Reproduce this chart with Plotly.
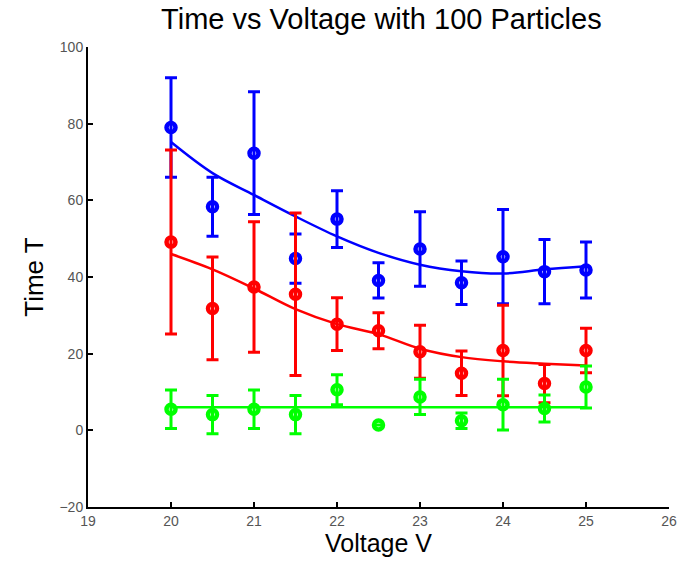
import plotly.graph_objects as go

voltage = [20, 20.5, 21, 21.5, 22, 22.5, 23, 23.5, 24, 24.5, 25]

blue_y = [79, 58.3, 72.3, 44.8, 55.1, 39.1, 47.3, 38.5, 45.3, 41.4, 41.8]
blue_err = [13, 7.7, 16, 6.4, 7.4, 4.6, 9.7, 5.7, 12.3, 8.4, 7.3]
blue_fit = [75.2, 67.1, 61.4, 55.8, 50.6, 46.3, 43.2, 41.5, 40.9, 42.0, 42.8]

red_y = [49.1, 31.8, 37.4, 35.5, 27.7, 26.0, 20.5, 14.9, 20.8, 12.2, 20.8]
red_err = [24, 13.4, 17, 21.2, 6.9, 4.7, 6.9, 5.8, 11.8, 5.0, 5.8]
red_fit = [46.0, 42.0, 37.0, 31.6, 27.7, 25.1, 21.3, 19.1, 18.0, 17.4, 16.9]

green_y = [5.5, 4.1, 5.5, 4.1, 10.6, 1.4, 8.7, 2.5, 6.7, 5.7, 11.3]
green_err = [5, 5, 5, 5, 3.9, 0, 4.6, 2, 6.6, 3.5, 5.5]
green_fit = [6.0, 6.0, 6.0, 6.0, 6.0, 6.0, 6.0, 6.0, 6.0, 6.0, 6.0]

series = [
    ("#0000ff", blue_y, blue_err, blue_fit),
    ("#ff0000", red_y, red_err, red_fit),
    ("#00ff00", green_y, green_err, green_fit),
]

FONT = "Liberation Sans, Arial, Helvetica"

fig = go.Figure()
for color, ys, errs, fit in series:
    fig.add_trace(go.Scatter(
        x=voltage, y=fit, mode="lines",
        line=dict(color=color, width=2.5, shape="spline"),
        showlegend=False, hoverinfo="skip"))
    fig.add_trace(go.Scatter(
        x=voltage, y=ys, mode="markers",
        marker=dict(symbol="circle-open", size=9, color=color,
                    line=dict(color=color, width=4.5)),
        error_y=dict(type="data", array=errs, visible=True,
                     color=color, thickness=3, width=6),
        showlegend=False))

axis_common = dict(
    showline=True, linecolor="black", linewidth=2, mirror=False,
    ticks="inside", ticklen=5, tickwidth=2, tickcolor="black",
    showgrid=False, zeroline=False,
    tickfont=dict(family=FONT, size=14, color="#555"),
)

fig.update_layout(
    width=688, height=563,
    margin=dict(l=88, r=11, t=47, b=54),
    paper_bgcolor="white", plot_bgcolor="white",
    title=dict(text="Time vs Voltage with 100 Particles",
               x=0.505, xref="paper", xanchor="center",
               y=0.966, yanchor="middle",
               font=dict(family=FONT, size=29, color="black")),
    xaxis=dict(range=[19, 26], dtick=1, tick0=19,
               title=dict(text="Voltage V", standoff=6,
                          font=dict(family=FONT, size=25, color="black")),
               **axis_common),
    yaxis=dict(range=[-20, 100], dtick=20, tick0=-20,
               title=dict(text="Time T", standoff=8,
                          font=dict(family=FONT, size=26, color="black")),
               **axis_common),
)

fig.write_html("out.html")
